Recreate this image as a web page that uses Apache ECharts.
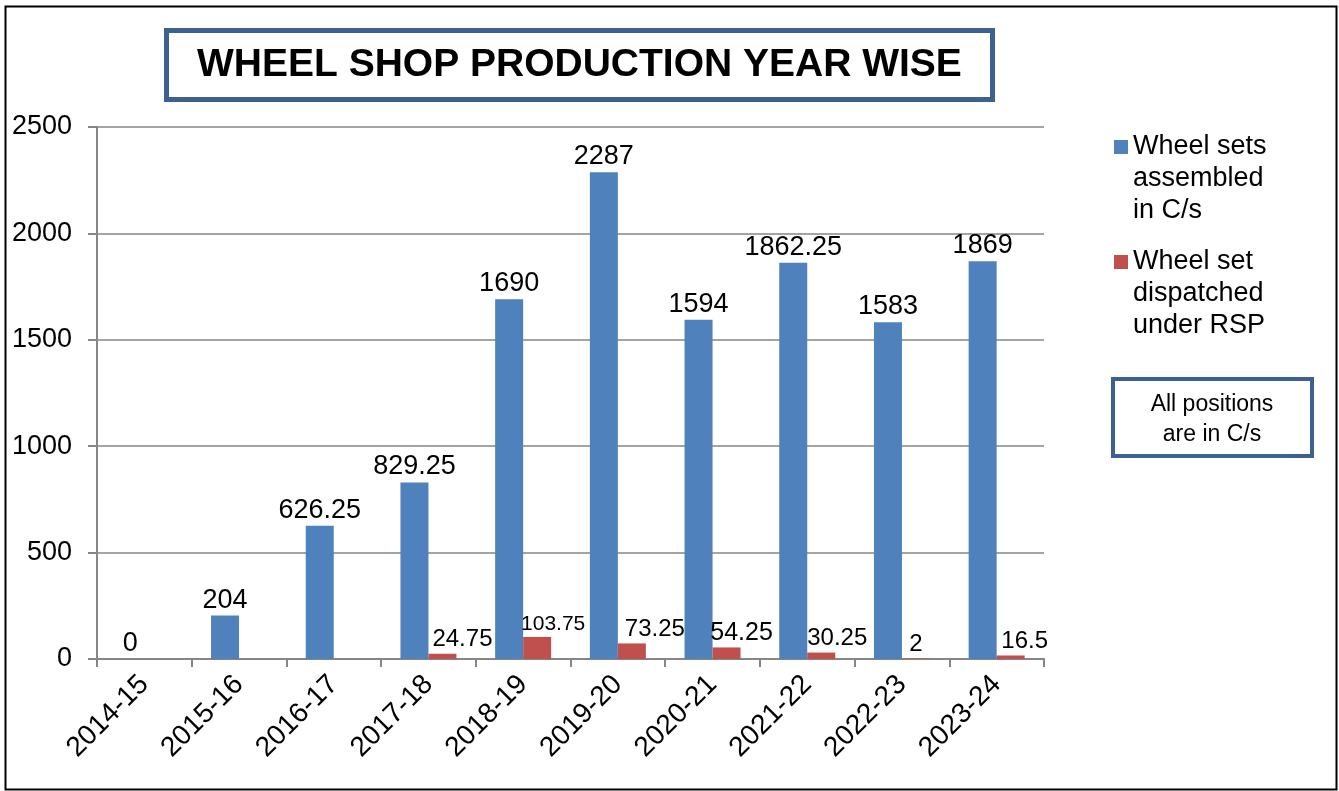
<!DOCTYPE html>
<html>
<head>
<meta charset="utf-8">
<script src="https://cdn.jsdelivr.net/npm/echarts@6/dist/echarts.min.js"></script>
<style>
  html, body { margin: 0; padding: 0; background: #fff; }
  #chart { width: 1339px; height: 791px; }
</style>
</head>
<body>
<div id="chart"></div>
<script>
var years = ['2014-15', '2015-16', '2016-17', '2017-18', '2018-19', '2019-20', '2020-21', '2021-22', '2022-23', '2023-24']
var assembled = [0, 204, 626.25, 829.25, 1690, 2287, 1594, 1862.25, 1583, 1869]
var dispatched = [null, null, null, 24.75, 103.75, 73.25, 54.25, 30.25, 2, 16.5]
var yTicks = [0, 500, 1000, 1500, 2000, 2500]

// label nudges for the red series (as placed in the original)
var redShift = [0, 0, 0, 20, 16, 23, 15, 16, 0, 14]
var redSize = [24, 24, 24, 24, 21, 24, 25, 24, 24, 24]

var font = 'Liberation Sans, Arial, sans-serif'
var blueName = 'Wheel sets\nassembled\nin C/s'
var redName = 'Wheel set\ndispatched\nunder RSP'

// square marker sitting on the first line of a 3-line legend entry
var legendIcon = 'path://M0,0h14v14h-14zM0,78h14'

var dom = echarts.init(document.getElementById('chart'))

var option = {
    animation: false,
    textStyle: { fontFamily: font },
    title: {
        text: 'WHEEL SHOP PRODUCTION YEAR WISE',
        left: 166,
        top: 30,
        padding: [15, 31],
        borderColor: '#3C6090',
        borderWidth: 5,
        backgroundColor: '#fff',
        textStyle: { fontFamily: font, fontSize: 39, fontWeight: 'bold', color: '#000', lineHeight: 40 }
    },
    legend: {
        data: [blueName, redName],
        left: 1114,
        top: 131,
        orient: 'vertical',
        padding: 0,
        itemGap: 19,
        itemWidth: 14,
        itemHeight: 78,
        icon: legendIcon,
        textStyle: { fontFamily: font, fontSize: 27, color: '#000', lineHeight: 32 }
    },
    grid: {
        left: 97,
        right: 295,
        top: 127,
        bottom: 132,
        containLabel: false
    },
    xAxis: {
        type: 'category',
        data: years,
        axisLine: { lineStyle: { color: '#868686', width: 2 } },
        axisTick: { show: true, alignWithLabel: false, length: 8, lineStyle: { color: '#868686', width: 2 } },
        axisLabel: { rotate: 45, fontSize: 28, color: '#000', margin: 21, fontFamily: font }
    },
    yAxis: {
        type: 'value',
        min: yTicks[0],
        max: yTicks[yTicks.length - 1],
        interval: yTicks[1] - yTicks[0],
        axisLine: { show: true, lineStyle: { color: '#868686', width: 2 } },
        axisTick: { show: true, length: 9, lineStyle: { color: '#868686', width: 2 } },
        axisLabel: {
            fontSize: 27, color: '#000', margin: 25, fontFamily: font,
            formatter: function (v) { return String(v) }
        },
        splitLine: { lineStyle: { color: '#868686', width: 1.5 } }
    },
    series: [
        {
            name: blueName,
            type: 'bar',
            barWidth: 28,
            barGap: '0%',
            itemStyle: { color: '#4F81BD' },
            label: { show: true, position: 'top', distance: 2, fontSize: 27, color: '#000', fontFamily: font },
            data: assembled
        },
        {
            name: redName,
            type: 'bar',
            barWidth: 28,
            barGap: '0%',
            itemStyle: { color: '#C0504D' },
            label: { show: true, position: 'top', distance: 2, color: '#000', fontFamily: font },
            data: dispatched.map(function (v, i) {
                if (v === null) return null
                return { value: v, label: { offset: [redShift[i], 0], fontSize: redSize[i] } }
            })
        }
    ],
    graphic: [
        {
            type: 'rect',
            left: 3, top: 4,
            shape: { width: 1331, height: 783 },
            style: { fill: 'none', stroke: '#000', lineWidth: 2 },
            silent: true
        },
        {
            type: 'group',
            left: 1111, top: 377,
            children: [
                {
                    type: 'rect',
                    shape: { x: 2, y: 2, width: 199, height: 77 },
                    style: { fill: '#fff', stroke: '#3C6090', lineWidth: 4 }
                },
                {
                    type: 'text',
                    x: 101, y: 43,
                    style: {
                        text: 'All positions\nare in C/s',
                        font: '23px ' + font,
                        fill: '#000',
                        align: 'center',
                        verticalAlign: 'middle',
                        lineHeight: 30
                    }
                }
            ]
        }
    ]
}

dom.setOption(option)
window.addEventListener('resize', function () { dom.resize() })
</script>
</body>
</html>
